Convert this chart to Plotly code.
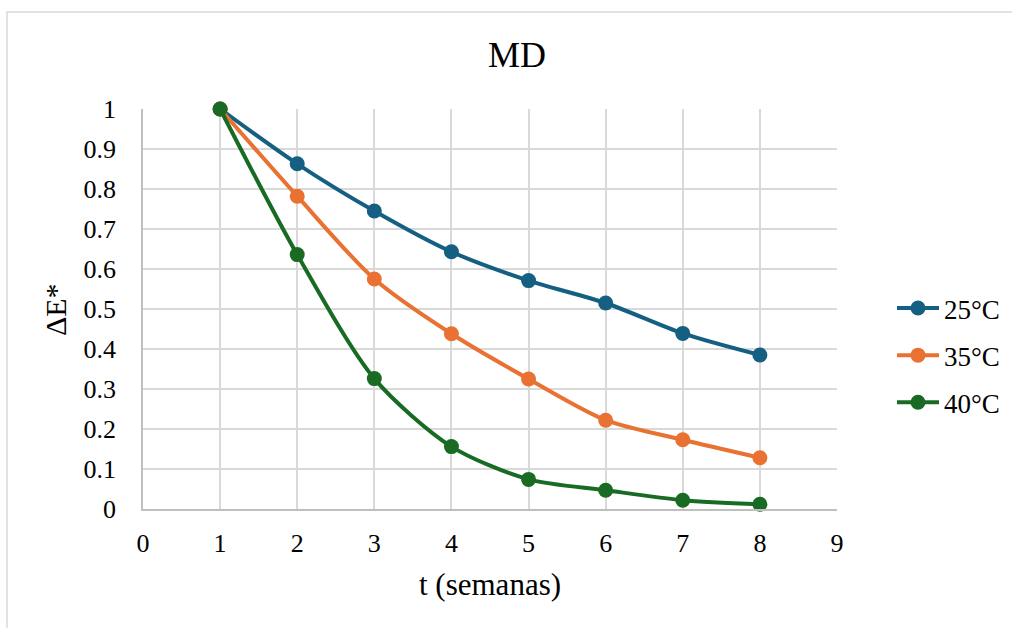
import plotly.graph_objects as go

# Measured colour difference over time at three storage temperatures
semanas = [1, 2, 3, 4, 5, 6, 7, 8]
de_25 = [1.0, 0.863, 0.745, 0.643, 0.571, 0.515, 0.439, 0.385]
de_35 = [1.0, 0.782, 0.575, 0.438, 0.325, 0.222, 0.173, 0.128]
de_40 = [1.0, 0.636, 0.326, 0.156, 0.074, 0.047, 0.022, 0.012]

series_names = ["25°C", "35°C", "40°C"]
series_values = [de_25, de_35, de_40]
series_colors = ["#156082", "#E97132", "#196B24"]

x_ticks = list(range(0, 10))
y_ticks = [round(0.1 * i, 1) for i in range(11)]
y_tick_text = ["0" if v == 0 else ("1" if v == 1 else f"{v:g}") for v in y_ticks]

FONT = "Liberation Serif"
W, H = 1012, 628
M_L, M_R, M_T, M_B = 143, 175, 109, 119
PW, PH = W - M_L - M_R, H - M_T - M_B


def px_to_paper_x(px):
    return (px - M_L) / PW


def px_to_paper_y(py):
    return (H - M_B - py) / PH


fig = go.Figure()
for name, vals, col in zip(series_names, series_values, series_colors):
    fig.add_trace(go.Scatter(
        x=semanas, y=vals, name=name, legendgroup=name, mode="lines+markers",
        line=dict(color=col, width=4, shape="spline", smoothing=0.8),
        marker=dict(color=col, size=15),
        cliponaxis=False,
    ))

grid = "#d9d9d9"
tick_font = dict(family=FONT, size=26, color="#000000")
fig.update_layout(
    width=W, height=H,
    margin=dict(l=M_L, r=M_R, t=M_T, b=M_B, pad=0, autoexpand=False),
    paper_bgcolor="white", plot_bgcolor="white",
    font=dict(family=FONT, color="#000000", size=26),
    showlegend=True,
    legend=dict(
        x=px_to_paper_x(892), y=px_to_paper_y(284), xanchor="left", yanchor="top",
        font=dict(family=FONT, size=27, color="#000000"),
        bgcolor="rgba(0,0,0,0)", borderwidth=0, itemwidth=42,
        tracegroupgap=9,
    ),
    xaxis=dict(
        range=[0, 9], tickvals=x_ticks, ticktext=[str(v) for v in x_ticks],
        showgrid=True, gridcolor=grid, gridwidth=1.5,
        showline=True, linecolor="#bfbfbf", linewidth=1.5,
        zeroline=False, ticks="", tickfont=tick_font, ticklabelstandoff=10,
        automargin=False,
    ),
    yaxis=dict(
        range=[0, 1], tickvals=y_ticks, ticktext=y_tick_text,
        showgrid=True, gridcolor=grid, gridwidth=1.5,
        showline=True, linecolor="#bfbfbf", linewidth=1.5,
        zeroline=False, ticks="", tickfont=tick_font, ticklabelstandoff=20,
        automargin=False,
    ),
    annotations=[
        dict(text="MD", x=px_to_paper_x(517), y=px_to_paper_y(55), xref="paper", yref="paper",
             showarrow=False, font=dict(family=FONT, size=36), xanchor="center", yanchor="middle"),
        dict(text="t (semanas)", x=px_to_paper_x(490), y=px_to_paper_y(584), xref="paper", yref="paper",
             showarrow=False, font=dict(family=FONT, size=31), xanchor="center", yanchor="middle"),
        dict(text="ΔE*", x=px_to_paper_x(55), y=px_to_paper_y(310), xref="paper", yref="paper",
             showarrow=False, font=dict(family=FONT, size=30), textangle=-90,
             xanchor="center", yanchor="middle"),
    ],
    shapes=[
        dict(type="path", xref="paper", yref="paper",
             path=(f"M {px_to_paper_x(7)} {px_to_paper_y(H + 10)} "
                   f"L {px_to_paper_x(7)} {px_to_paper_y(12)} "
                   f"L {px_to_paper_x(W + 10)} {px_to_paper_y(12)}"),
             line=dict(color="#d9d9d9", width=1.5), layer="below"),
    ],
)

fig.write_html("out.html")
